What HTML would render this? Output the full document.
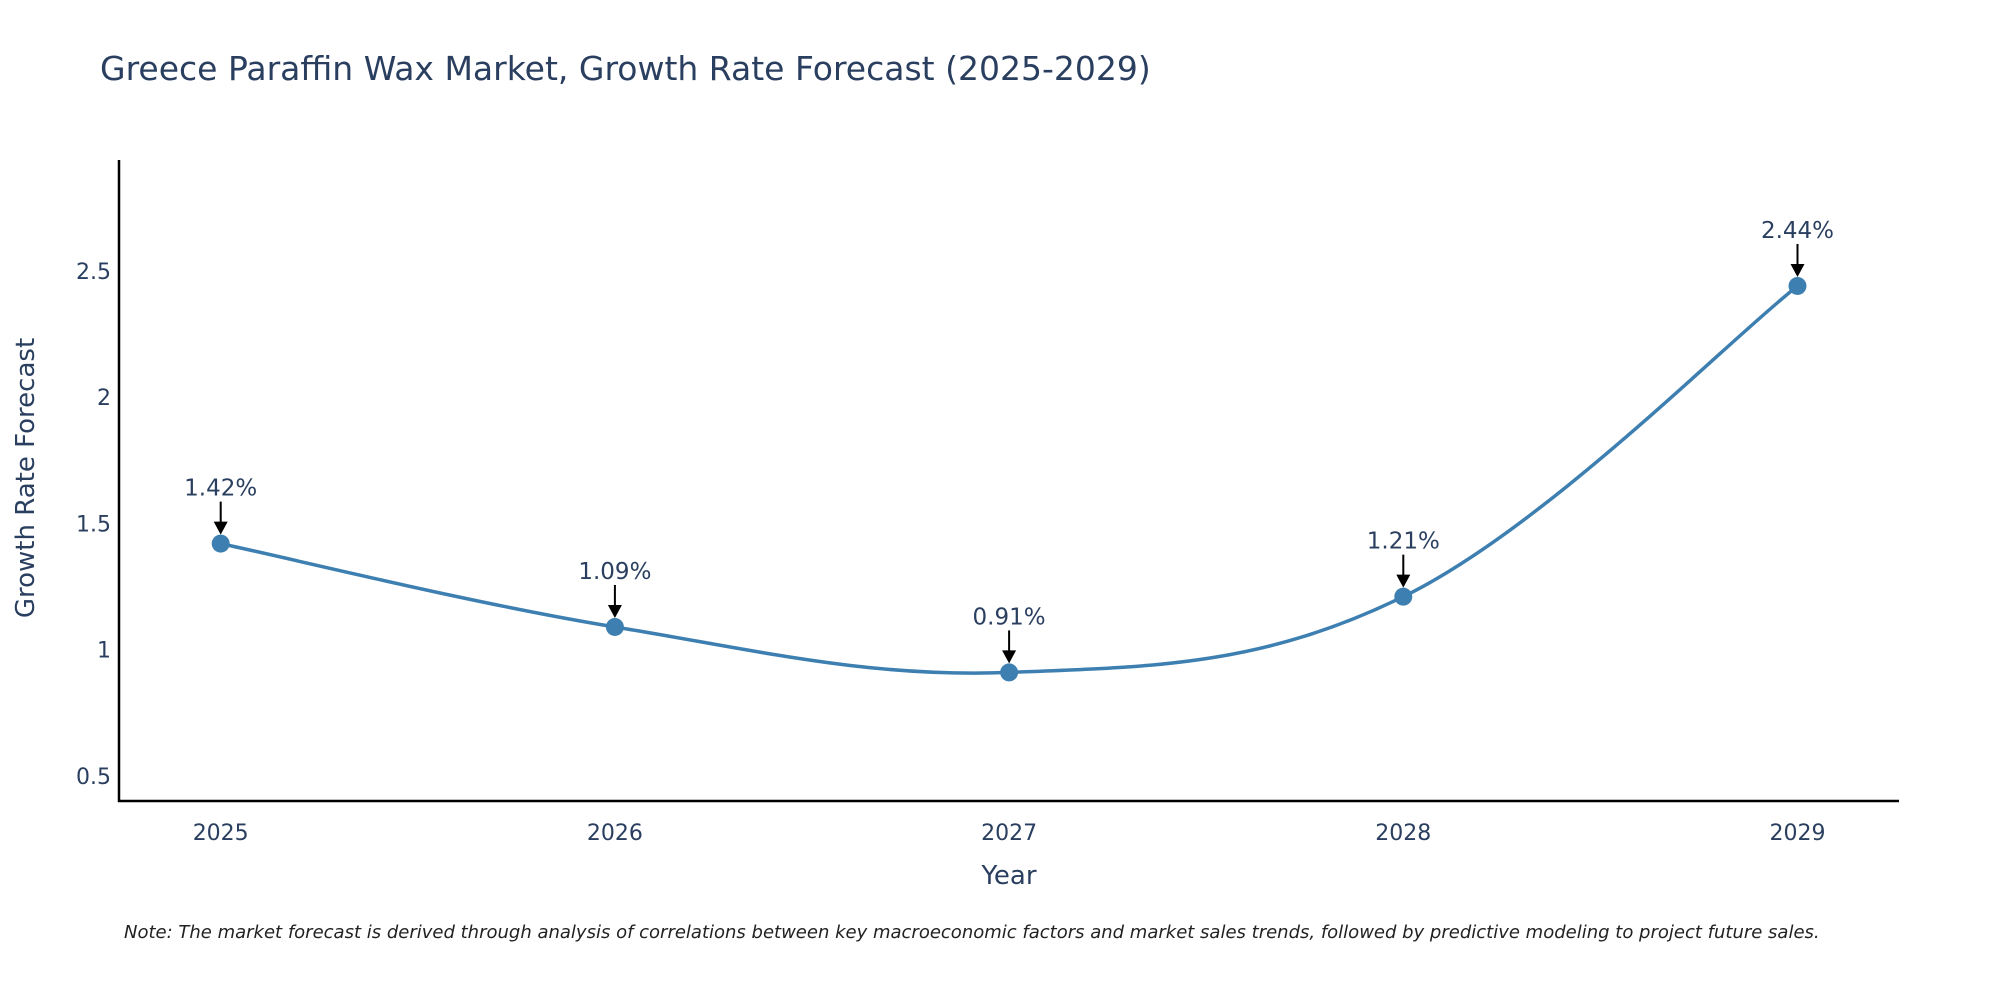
<!DOCTYPE html>
<html><head><meta charset="utf-8">
<style>
body{margin:0;background:#fff;}
svg{display:block;font-family:"DejaVu Sans","Liberation Sans",sans-serif;}
</style></head>
<body>
<svg id="chart" width="2000" height="1000" viewBox="0 0 2000 1000" xmlns="http://www.w3.org/2000/svg">
<rect width="2000" height="1000" fill="#fff"/>
<text x="100" y="80" font-size="33" fill="#2a3f5f">Greece Paraffin Wax Market, Growth Rate Forecast (2025-2029)</text>
<g id="yticks"></g><g id="xticks"></g>
<line x1="119" y1="160" x2="119" y2="802" stroke="#000" stroke-width="2.5"/>
<line x1="118" y1="801" x2="1899" y2="801" stroke="#000" stroke-width="2.5"/>
<g id="series"></g>
<g id="annots"></g>
<text x="1009" y="884" font-size="26" fill="#2a3f5f" text-anchor="middle">Year</text>
<text x="0" y="0" transform="translate(34,478) rotate(-90)" font-size="26" fill="#2a3f5f" text-anchor="middle">Growth Rate Forecast</text>
<text x="124" y="938" font-size="18" font-style="italic" fill="#222">Note: The market forecast is derived through analysis of correlations between key macroeconomic factors and market sales trends, followed by predictive modeling to project future sales.</text>
</svg>
<script>
const years = [2025, 2026, 2027, 2028, 2029];
const growth = [1.42, 1.09, 0.91, 1.21, 2.44];
const yTicks = [0.5, 1, 1.5, 2, 2.5];
const yTickLabels = ["0.5", "1", "1.5", "2", "2.5"];

const NS = "http://www.w3.org/2000/svg";
function xScale(v){ return 220.7 + (v - 2025) * 394.2; }
function yScale(v){ return 776 - (v - 0.5) * 252.6; }
function mk(tag, attrs, parent){ const e=document.createElementNS(NS,tag); for(const k in attrs) e.setAttribute(k,attrs[k]); parent.appendChild(e); return e; }

const yg=document.getElementById('yticks');
yTicks.forEach((t,i)=>{
  const el=mk('text',{x:111,y:yScale(t)+8,'font-size':22,fill:'#2a3f5f','text-anchor':'end'},yg);
  
  
  el.textContent=yTickLabels[i];
});
const xg=document.getElementById('xticks');
years.forEach(y=>{
  const el=mk('text',{x:xScale(y),y:840,'font-size':22,fill:'#2a3f5f','text-anchor':'middle'},xg);
  
  
  el.textContent=String(y);
});

const pts=years.map((y,i)=>[xScale(y),yScale(growth[i])]);
let d='M'+pts[0][0]+','+pts[0][1];
const k=0.18;
for(let i=0;i<pts.length-1;i++){
  const p0=pts[Math.max(i-1,0)],p1=pts[i],p2=pts[i+1],p3=pts[Math.min(i+2,pts.length-1)];
  const c1=[p1[0]+(p2[0]-p0[0])*k,p1[1]+(p2[1]-p0[1])*k];
  const c2=[p2[0]-(p3[0]-p1[0])*k,p2[1]-(p3[1]-p1[1])*k];
  d+=' C'+c1[0]+','+c1[1]+' '+c2[0]+','+c2[1]+' '+p2[0]+','+p2[1];
}
const sg=document.getElementById('series');
const line=mk('path',{d:d,fill:'none',stroke:'#3d7fb0','stroke-width':3.5},sg);


pts.forEach(p=>{
  const c=mk('circle',{cx:p[0],cy:p[1],r:9,fill:'#3d7fb0'},sg);
  
  
});

const ag=document.getElementById('annots');
pts.forEach((p,i)=>{
  const t=mk('text',{x:p[0],y:p[1]-48,'font-size':23,fill:'#2a3f5f','text-anchor':'middle'},ag);
  
  
  t.textContent=growth[i].toFixed(2)+'%';
  const l=mk('line',{x1:p[0],y1:p[1]-42,x2:p[0],y2:p[1]-20,stroke:'#000','stroke-width':2},ag);
  
  
  const h=mk('polygon',{points:(p[0]-7)+','+(p[1]-22)+' '+(p[0]+7)+','+(p[1]-22)+' '+p[0]+','+(p[1]-9),fill:'#000'},ag);
  
  
});
</script>
</body></html>
